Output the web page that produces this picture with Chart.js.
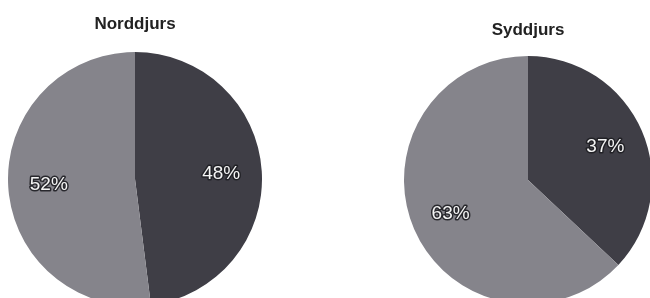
<!DOCTYPE html>
<html>
<head>
<meta charset="utf-8">
<script src="https://cdn.jsdelivr.net/npm/chart.js@4.4.1/dist/chart.umd.min.js"></script>
<style>
  html, body { margin: 0; padding: 0; background: #fff; }
  body { width: 650px; height: 298px; overflow: hidden; position: relative; }
  .box { position: absolute; }
  #boxN { left: 8px; top: 14px; width: 254px; height: 292px; }
  #boxS { left: 404px; top: 20px; width: 248px; height: 284px; }
</style>
</head>
<body>
<div class="box" id="boxN"><canvas id="pieN"></canvas></div>
<div class="box" id="boxS"><canvas id="pieS"></canvas></div>
<script>
// data
const groups = ["Andel A", "Andel B"];
const norddjursValues = [48, 52];
const syddjursValues = [37, 63];
const titles = ["Norddjurs", "Syddjurs"];
const sliceColors = ["#3f3e46", "#85848b"];

(function(){
  const el = (id)=>document.getElementById(id);

  // white value labels with dark outline, placed at ~0.68 r along slice middle
  const pctLabels = {
    id: "pctLabels",
    afterDatasetsDraw(chart){
      const ctx = chart.ctx;
      const meta = chart.getDatasetMeta(0);
      const data = chart.data.datasets[0].data;
      ctx.save();
      ctx.font = "19px 'Liberation Sans', Arial, sans-serif";
      ctx.textAlign = "center";
      ctx.textBaseline = "middle";
      ctx.lineJoin = "round";
      meta.data.forEach((arc, i)=>{
        const p = arc.getProps(["x","y","startAngle","endAngle","outerRadius"], true);
        const mid = (p.startAngle + p.endAngle) / 2;
        const r = p.outerRadius * 0.68;
        const x = p.x + Math.cos(mid) * r;
        const y = p.y + Math.sin(mid) * r;
        const txt = data[i] + "%";
        ctx.lineWidth = 3;
        ctx.strokeStyle = "rgba(30,30,34,0.9)";
        ctx.strokeText(txt, x, y);
        ctx.fillStyle = "#f4f4f4";
        ctx.fillText(txt, x, y);
      });
      ctx.restore();
    }
  };

  function makePie(canvas, title, values, padBottom){
    return new Chart(canvas, {
      type: "pie",
      data: {
        labels: groups,
        datasets: [{
          data: values,
          backgroundColor: sliceColors,
          borderWidth: 0,
          hoverOffset: 0,
          offset: 0
        }]
      },
      options: {
        responsive: true,
        maintainAspectRatio: false,
        animation: false,
        events: [],
        layout: { padding: 0 },
        plugins: {
          legend: { display: false },
          tooltip: { enabled: false },
          title: {
            display: true,
            text: title,
            color: "#222",
            font: { family: "'Liberation Sans', Arial, sans-serif", size: 17, weight: "bold", lineHeight: 1.2 },
            padding: { top: 0, bottom: padBottom }
          }
        }
      },
      plugins: [pctLabels]
    });
  }

  makePie(el("pieN"), titles[0], norddjursValues, 17.6);
  makePie(el("pieS"), titles[1], syddjursValues, 15.6);
})();
</script>
</body>
</html>
